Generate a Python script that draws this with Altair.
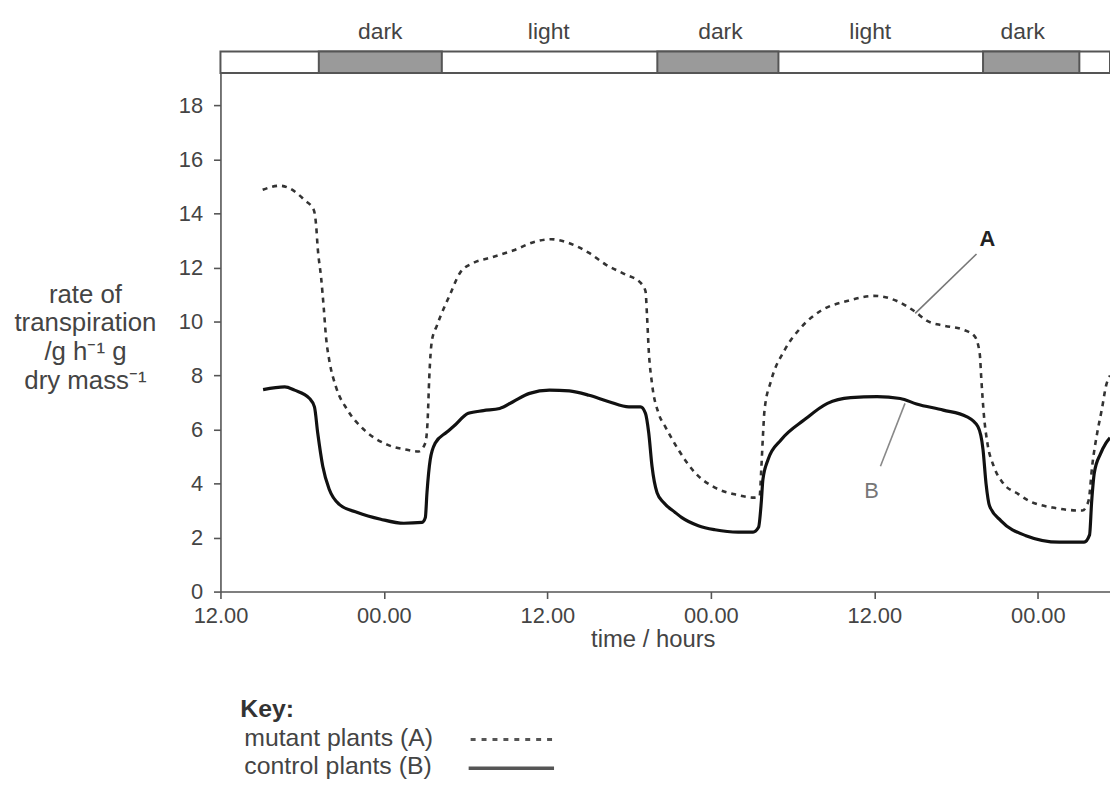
import altair as alt
import pandas as pd

# ---------------- data ----------------
hours_A = [3.1, 4.35, 5.08, 6.17, 6.85, 7.02, 7.14, 7.39, 7.58, 7.75, 7.99, 8.48, 9.33, 10.55,
           12.24, 13.7, 14.55, 15.04, 15.21, 15.33, 15.52, 15.89, 16.86, 17.59, 18.56, 19.78,
           21.48, 23.18, 24.27, 25.61, 27.06, 28.28, 29.74, 30.83, 31.2, 31.32, 31.44, 31.68,
           32.16, 32.65, 33.62, 34.84, 36.3, 37.76, 39.21, 39.58, 39.7, 39.82, 39.94, 40.43,
           41.4, 42.62, 44.07, 46.0, 47.96, 49.66, 51.0, 51.85, 53.06, 54.52, 55.37, 55.74,
           55.85, 56.05, 56.3, 56.8, 57.43, 58.6, 59.13, 61.08, 63.27, 63.6, 63.75, 63.99,
           64.36, 64.72, 65.0, 65.3]
rate_A = [14.88, 15.03, 14.93, 14.5, 14.13, 13.58, 12.72, 11.62, 10.52, 9.42, 8.56, 7.58, 6.72, 5.99,
          5.44, 5.25, 5.19, 5.5, 6.36, 7.95, 9.29, 9.85, 11.01, 11.81, 12.17, 12.36,
          12.63, 12.97, 13.05, 12.9, 12.54, 12.11, 11.74, 11.44, 11.13, 10.15, 8.93, 7.7,
          6.6, 6.11, 5.25, 4.4, 3.85, 3.6, 3.48, 3.54, 4.52, 5.74, 6.72, 7.82,
          8.93, 9.78, 10.4, 10.76, 10.95, 10.76, 10.36, 10.03, 9.85, 9.7, 9.45, 8.8,
          7.9, 6.5, 5.5, 4.6, 4.03, 3.6, 3.42, 3.11, 3.0, 3.2, 3.42, 4.64,
          5.87, 6.8, 7.6, 8.0]

hours_B = [3.13, 4.72, 5.44, 6.54, 6.9, 7.14, 7.51, 7.99, 8.72, 10.06, 11.76, 13.46, 14.8, 15.04,
           15.16, 15.4, 15.77, 16.6, 17.1, 18.2, 19.3, 20.5, 21.48, 22.69, 24.15, 25.61, 27.06,
           28.52, 29.98, 30.83, 31.2, 31.44, 31.68, 32.05, 32.53, 33.38, 33.87, 35.08, 36.3,
           38.0, 39.1, 39.5, 39.7, 39.82, 40.2, 41.16, 42.86, 44.56, 46.26, 48.2, 49.9, 51.1,
           53.06, 54.77, 55.6, 55.98, 56.2, 56.46, 57.3, 59.13, 61.57, 63.4, 63.8, 63.95,
           64.15, 64.6, 65.0, 65.3]
rate_B = [7.48, 7.58, 7.46, 7.15, 6.84, 5.87, 4.64, 3.78, 3.23, 2.93, 2.68, 2.53, 2.56, 2.74,
          3.66, 4.89, 5.5, 5.9, 6.11, 6.6, 6.7, 6.78, 7.03, 7.34, 7.46, 7.43, 7.27,
          7.03, 6.84, 6.84, 6.6, 5.87, 4.64, 3.66, 3.3, 2.93, 2.74, 2.44, 2.29,
          2.2, 2.2, 2.38, 3.3, 4.15, 4.89, 5.62, 6.36, 6.97, 7.18, 7.22, 7.15, 6.95,
          6.72, 6.48, 6.11, 5.25, 4.0, 3.17, 2.62, 2.07, 1.83, 1.83, 2.1, 3.3,
          4.4, 5.1, 5.5, 5.7]

tick_hours = [0, 12, 24, 36, 48, 60]
tick_labels = ["12.00", "00.00", "12.00", "00.00", "12.00", "00.00"]
y_ticks = [0, 2, 4, 6, 8, 10, 12, 14, 16, 18]
x_title = "time / hours"
y_title = ["rate of", "transpiration", "/g h⁻¹ g", "dry mass⁻¹"]
key_title = "Key:"
key_labels = ["mutant plants (A)", "control plants (B)"]

dark_start = [7.22, 32.07, 55.98]
dark_end = [16.25, 40.96, 63.05]
period_labels = ["dark", "light", "dark", "light", "dark"]
period_label_hours = [11.73, 24.1, 36.7, 47.7, 58.9]

X_MAX = 65.3
Y_MAX = 20
BAR_BOTTOM = 19.2

# ---------------- layout ----------------
W, H = 896, 544
FONT = "Liberation Sans"
TXT = "#444444"

xs = alt.Scale(domain=[0, X_MAX], nice=False, zero=False)
ys = alt.Scale(domain=[0, Y_MAX], nice=False, zero=True)

dfA = pd.DataFrame({"hours": hours_A, "rate": rate_A})
dfB = pd.DataFrame({"hours": hours_B, "rate": rate_B})

label_expr = "".join(f"datum.value == {h} ? '{t}' : " for h, t in zip(tick_hours, tick_labels)) + "''"

x_axis = alt.Axis(values=tick_hours, labelExpr=label_expr, title=None,
                  labelFontSize=22, labelColor=TXT, labelPadding=7, labelFlush=False,
                  tickSize=7, grid=False, domainColor="#555555", tickColor="#555555",
                  domainWidth=1.6, tickWidth=1.6, labelFont=FONT)
y_axis = alt.Axis(values=y_ticks, title=None, labelFontSize=22, labelColor=TXT,
                  labelPadding=11, labelFlush=False, tickSize=7, grid=False,
                  domainColor="#555555", tickColor="#555555", domainWidth=1.6,
                  tickWidth=1.6, labelFont=FONT)

lineA = alt.Chart(dfA).mark_line(interpolate="monotone", color="#333333", strokeWidth=2.6,
                                 strokeDash=[5, 5]).encode(
    x=alt.X("hours:Q", scale=xs, axis=x_axis),
    y=alt.Y("rate:Q", scale=ys, axis=y_axis),
)
lineB = alt.Chart(dfB).mark_line(interpolate="monotone", color="#111111", strokeWidth=3.2).encode(
    x=alt.X("hours:Q", scale=xs),
    y=alt.Y("rate:Q", scale=ys),
)

# light/dark bar on top
bar_bg = alt.Chart(pd.DataFrame({"start": [0], "end": [X_MAX], "lo": [BAR_BOTTOM], "hi": [Y_MAX]})).mark_rect(
    fill="white", stroke="#555555", strokeWidth=2).encode(
    x=alt.X("start:Q", scale=xs), x2="end:Q",
    y=alt.Y("lo:Q", scale=ys), y2="hi:Q")
bar_dark = alt.Chart(pd.DataFrame({"start": dark_start, "end": dark_end,
                                   "lo": [BAR_BOTTOM] * 3, "hi": [Y_MAX] * 3})).mark_rect(
    fill="#9a9a9a", stroke="#555555", strokeWidth=2).encode(
    x=alt.X("start:Q", scale=xs), x2="end:Q",
    y=alt.Y("lo:Q", scale=ys), y2="hi:Q")
bar_text = alt.Chart(pd.DataFrame({"h": period_label_hours, "t": period_labels})).mark_text(
    font=FONT, fontSize=23, color=TXT, baseline="middle", align="center").encode(
    x=alt.X("h:Q", scale=xs), y=alt.value(-20), text="t:N")


def txt(s, x, y, size=25, weight="normal", align="left", color=TXT, baseline="alphabetic",
        line_height=None):
    kw = dict(font=FONT, fontSize=size, fontWeight=weight, align=align,
              baseline=baseline, color=color)
    if line_height:
        kw["lineHeight"] = line_height
    return alt.Chart(pd.DataFrame({"s": [s]})).mark_text(**kw).encode(
        x=alt.value(x), y=alt.value(y), text="s")

# annotations A and B (data coordinates)
lead_df = pd.DataFrame({"x": [55.5, 50.25], "x2": [51.0, 48.45], "y": [12.5, 6.97], "y2": [10.3, 4.64],
                        "c": ["A", "B"]})
leads = alt.Chart(lead_df).mark_rule(strokeWidth=1.6).encode(
    x=alt.X("x:Q", scale=xs), x2="x2:Q",
    y=alt.Y("y:Q", scale=ys), y2="y2:Q",
    color=alt.Color("c:N", scale=alt.Scale(domain=["A", "B"], range=["#777777", "#888888"]), legend=None))
lab_A = alt.Chart(pd.DataFrame({"x": [56.3], "y": [13.05], "t": ["A"]})).mark_text(
    font=FONT, fontSize=22, fontWeight="bold", color="#222222", baseline="middle").encode(
    x=alt.X("x:Q", scale=xs), y=alt.Y("y:Q", scale=ys), text="t:N")
lab_B = alt.Chart(pd.DataFrame({"x": [47.8], "y": [3.72], "t": ["B"]})).mark_text(
    font=FONT, fontSize=22, color="#777777", baseline="middle").encode(
    x=alt.X("x:Q", scale=xs), y=alt.Y("y:Q", scale=ys), text="t:N")

# axis titles (pixel positions relative to plot origin)
titles = [
    txt(x_title, 436, 593, size=24, align="center", baseline="middle"),
    txt(y_title, -136, 245, size=26, align="center", baseline="middle", line_height=29),
]

# key (pixel positions relative to plot origin)
key_layers = [
    txt(key_title, 20, 670, weight="bold", color="#333333"),
    txt(key_labels[0], 24, 700),
    txt(key_labels[1], 24, 728),
    alt.Chart(pd.DataFrame({"k": [0]})).mark_rule(color="#555555", strokeWidth=3, strokeDash=[5, 6]).encode(
        x=alt.value(252), x2=alt.value(337), y=alt.value(693)),
    alt.Chart(pd.DataFrame({"k": [0]})).mark_rule(color="#555555", strokeWidth=3.5).encode(
        x=alt.value(250), x2=alt.value(336), y=alt.value(722)),
]

chart = alt.layer(lineA, lineB, bar_bg, bar_dark, bar_text, leads, lab_A, lab_B,
                  *titles, *key_layers).properties(
    width=W, height=H,
    autosize=alt.AutoSizeParams(type="none"),
    padding={"left": 214, "top": 41, "right": 0, "bottom": 191},
).configure_view(stroke=None)

chart.save("out.html", embed_options={"renderer": "svg", "actions": False})
